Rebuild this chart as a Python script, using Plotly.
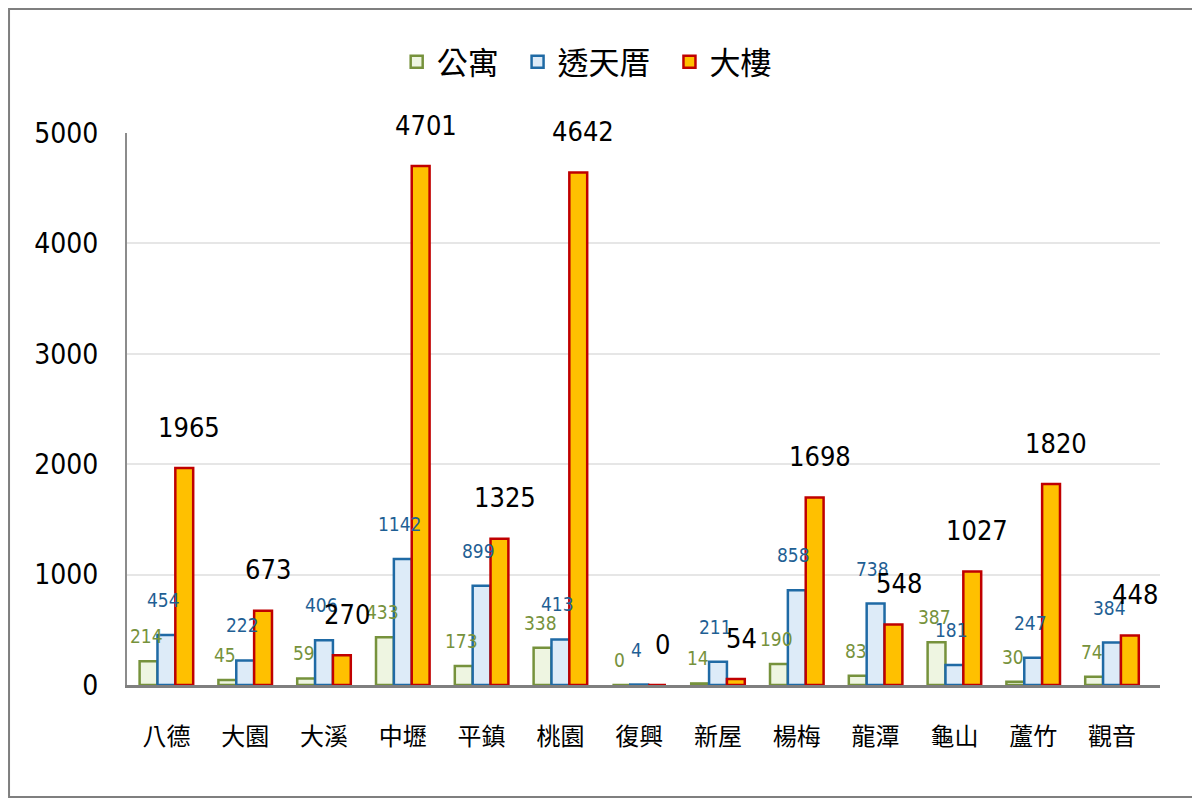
import plotly.graph_objects as go

districts = ["八德", "大園", "大溪", "中壢", "平鎮", "桃園", "復興", "新屋", "楊梅", "龍潭", "龜山", "蘆竹", "觀音"]
apartment = [214, 45, 59, 433, 173, 338, 0, 14, 190, 83, 387, 30, 74]
townhouse = [454, 222, 406, 1142, 899, 413, 4, 211, 858, 738, 181, 247, 384]
building = [1965, 673, 270, 4701, 1325, 4642, 0, 54, 1698, 548, 1027, 1820, 448]
y_ticks = [0, 1000, 2000, 3000, 4000, 5000]

NUM_FONT = "DejaVu Sans Condensed"
CJK_FONT = "Noto Sans CJK TC, Noto Sans CJK SC, sans-serif"
NBSP = "\u00a0"

series = [
    # name, values, fill, border, label colour, label size, label x-shift, label y-shift, legend padding
    ("公寓", apartment, "#EEF5E1", "#76923C", "#76923C", 19, -20, 25, 2),
    ("透天厝", townhouse, "#DDEBF8", "#1F6AA5", "#1F5F94", 19, -3, 35, 2),
    ("大樓", building, "#FFC000", "#C00000", "#000000", 27, 23, 41, 0),
]

BARGAP = 0.32

fig = go.Figure()
annotations = []
for name, vals, fill, border, lab_col, lab_size, dx, dy, pad in series:
    fig.add_trace(go.Bar(
        name=name + NBSP * pad, x=districts, y=vals,
        marker=dict(color=fill, line=dict(color=border, width=2.5)),
        hovertemplate=name + " %{x}: %{y}<extra></extra>",
    ))
    for cat, v in zip(districts, vals):
        annotations.append(dict(
            x=cat, y=v, xref="x", yref="y", text=str(v), showarrow=False,
            xanchor="center", yanchor="middle", xshift=dx, yshift=dy,
            font=dict(color=lab_col, size=lab_size, family=NUM_FONT),
        ))

fig.update_layout(
    width=1200, height=800,
    margin=dict(l=119, r=48, t=125, b=123, autoexpand=False),
    paper_bgcolor="white", plot_bgcolor="white",
    barmode="group", bargap=BARGAP, bargroupgap=0,
    showlegend=True,
    legend=dict(orientation="h", x=0.445, xanchor="center", y=1.1286, yanchor="middle",
                font=dict(size=31, family=CJK_FONT, color="#000000"),
                itemwidth=30, tracegroupgap=0),
    annotations=annotations,
    shapes=[dict(type="rect", xref="paper", yref="paper",
                 x0=-0.1142, x1=1.0358, y0=-0.2029, y1=1.2246,
                 line=dict(color="#7F7F7F", width=2), fillcolor="rgba(0,0,0,0)", layer="below")],
)
fig.update_xaxes(
    tickfont=dict(size=24, family=CJK_FONT, color="#000000"),
    showline=True, linecolor="#7F7F7F", linewidth=3,
    ticks="", showgrid=False, ticklabelstandoff=28, automargin=False,
)
fig.update_yaxes(
    range=[0, 5000], tickvals=y_ticks,
    tickfont=dict(size=28, family=NUM_FONT, color="#000000"),
    showgrid=True, gridcolor="#E6E6E6", gridwidth=2,
    showline=True, linecolor="#8C8C8C", linewidth=2,
    zeroline=False, ticks="", ticklabelstandoff=21, automargin=False,
)

fig.write_html("out.html")
